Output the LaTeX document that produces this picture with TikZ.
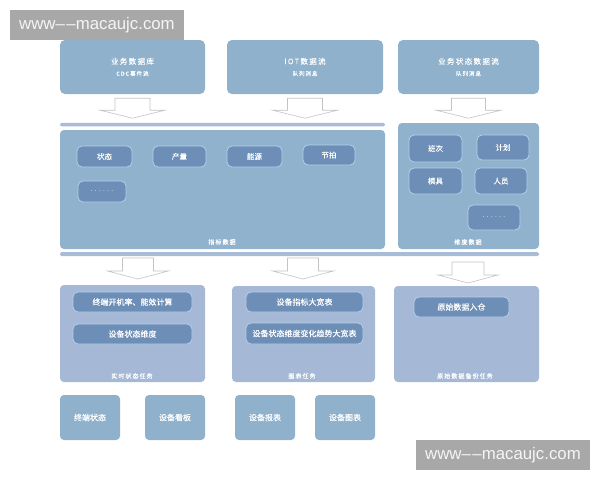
\documentclass[tikz,border=0pt]{standalone}
\usepackage{fontspec}
\setmainfont{Liberation Sans}
\newfontfamily\cjk{Noto Sans CJK SC}[FakeBold=0.2]
\newfontfamily\cjksp{Noto Sans CJK SC}[LetterSpace=18,FakeBold=0.15]
\newfontfamily\dotfont{Liberation Sans}[LetterSpace=35]
\definecolor{boxblue}{HTML}{8FB1CC}
\definecolor{midblue}{HTML}{91B2CD}
\definecolor{chipfill}{HTML}{6D8FB7}
\definecolor{chipline}{HTML}{B4D0EA}
\definecolor{taskblue}{HTML}{A5B8D5}
\definecolor{barblue}{HTML}{A8BCD8}
\definecolor{wmgray}{HTML}{A8A8A8}
\definecolor{arrgray}{HTML}{C4C4C4}
\newcommand\blkarrow[5]{%
  \draw[arr, shift={(#1)}] (-#2,0) -- (-#2,#4) -- (-#3,#4) -- (0,#5) -- (#3,#4) -- (#2,#4) -- (#2,0) -- cycle;}
\newcommand\srctext[2]{{\cjksp\fontsize{7.5}{9}\selectfont #1}\\[-0.5pt]{\cjksp\fontsize{5.5}{6.5}\selectfont #2}}
\newcommand\dotsx{{\dotfont\fontsize{6.5}{7}\selectfont ......}}
\begin{document}
\begin{tikzpicture}[x=1pt,y=-1pt,
  box/.style={rectangle, rounded corners=5pt, fill=boxblue, draw=none, text=white, align=center, inner sep=0pt},
  srcbox/.style={box, minimum height=54pt},
  panel/.style={box, fill=midblue, rounded corners=4pt},
  task/.style={box, fill=taskblue, rounded corners=4pt},
  chip/.style={box, fill=chipfill, draw=chipline, line width=0.8pt, rounded corners=5pt, font=\cjk\fontsize{7.5}{8}\selectfont},
  tchip/.style={chip, font=\cjk\fontsize{8}{9}\selectfont},
  outbox/.style={box, minimum width=60pt, minimum height=45pt, rounded corners=4pt, font=\cjk\fontsize{8}{9}\selectfont},
  bar/.style={rectangle, rounded corners=1.5pt, fill=barblue, draw=none, inner sep=0pt},
  lbl/.style={text=white, font=\cjksp\fontsize{6}{7}\selectfont, inner sep=0pt},
  arr/.style={draw=arrgray, fill=white, line width=0.6pt, line join=miter},
  wm/.style={rectangle, fill=wmgray, text=white!96!black, inner sep=0pt, minimum width=174pt, minimum height=30pt, font=\fontsize{16.8}{20}\selectfont}
]
\useasboundingbox (0,0) rectangle (600,480);
\fill[white] (0,0) rectangle (600,480);

% source boxes
\node[srcbox, minimum width=145pt] (s1) at (132.5,67) {\srctext{业务数据库}{CDC事件流}};
\node[srcbox, minimum width=156pt] (s2) at (305,67) {\srctext{IOT数据流}{队列消息}};
\node[srcbox, minimum width=141pt] (s3) at (468.5,67) {\srctext{业务状态数据流}{队列消息}};

% bars
\node[bar, minimum width=325pt, minimum height=3.5pt] (bar1) at (222.5,124.5) {};
\node[bar, minimum width=479pt, minimum height=4pt] (bar2) at (299.5,254) {};

% panels
\node[panel, minimum width=325pt, minimum height=119pt] (p1) at (222.5,189.5) {};
\node[panel, minimum width=141pt, minimum height=126pt] (p2) at (468.5,186) {};
\node[lbl] (p1l) at (222,242) {指标数据};
\node[lbl] (p2l) at (468,242) {维度数据};

% arrows row 1
\coordinate (a1) at ([yshift=-4pt]s1.south);
\coordinate (a2) at ([yshift=-4pt]s2.south);
\coordinate (a3) at ([yshift=-4pt]s3.south);
\blkarrow{a1}{17.5}{32.5}{12}{20}
\blkarrow{a2}{17.5}{32.5}{12}{20}
\blkarrow{a3}{17}{32.5}{12}{20}

% chips left
\node[chip, minimum width=55pt, minimum height=21pt] (c1) at (104.5,156.5) {状态};
\node[chip, minimum width=53pt, minimum height=21pt] (c2) at (179.5,156.5) {产量};
\node[chip, minimum width=55pt, minimum height=21pt] (c3) at (254.5,156.5) {能源};
\node[chip, minimum width=52pt, minimum height=20pt] (c4) at (329,155) {节拍};
\node[chip, minimum width=48pt, minimum height=21pt] (c5) at (102,191.5) {\dotsx};
% chips right
\node[chip, minimum width=53pt, minimum height=27pt] (d1) at (435.5,148.5) {班次};
\node[chip, minimum width=52pt, minimum height=25pt] (d2) at (503,147.5) {计划};
\node[chip, minimum width=53pt, minimum height=26pt] (d3) at (435.5,181) {模具};
\node[chip, minimum width=52pt, minimum height=26pt] (d4) at (501,181) {人员};
\node[chip, minimum width=52pt, minimum height=25pt] (d5) at (494,217.5) {\dotsx};

% arrows row 2
\coordinate (b1) at (138,258);
\coordinate (b2) at (303,258);
\coordinate (b3) at (468,262);
\blkarrow{b1}{15.5}{30.5}{13}{21}
\blkarrow{b2}{15.5}{30.5}{13}{21}
\blkarrow{b3}{16}{30}{13}{21}

% task boxes
\node[task, minimum width=145pt, minimum height=97pt] (t1) at (132.5,333.5) {};
\node[task, minimum width=143pt, minimum height=96pt] (t2) at (303.5,334) {};
\node[task, minimum width=145pt, minimum height=96pt] (t3) at (466.5,334) {};
\node[lbl] (t1l) at (132,376) {实时状态任务};
\node[lbl] (t2l) at (302,376) {图表任务};
\node[lbl] (t3l) at (465,376) {原始数据备份任务};

\node[tchip, minimum width=119pt, minimum height=20pt] (e1) at (132.5,302) {终端开机率、能效计算};
\node[tchip, minimum width=119pt, minimum height=20pt] (e2) at (132.5,334) {设备状态维度};
\node[tchip, minimum width=117pt, minimum height=20pt] (e3) at (304.5,302) {设备指标大宽表};
\node[tchip, minimum width=117pt, minimum height=21pt] (e4) at (304.5,333.5) {设备状态维度变化趋势大宽表};
\node[tchip, minimum width=95pt, minimum height=20pt] (e5) at (461.5,307) {原始数据入仓};

% output boxes
\node[outbox] (o1) at (90,417.5) {终端状态};
\node[outbox] (o2) at (175,417.5) {设备看板};
\node[outbox] (o3) at (265,417.5) {设备报表};
\node[outbox] (o4) at (345,417.5) {设备图表};

% watermarks
\node[wm] (w1) at (97,25) {www–\kern1.5pt–macaujc.com};
\node[wm] (w2) at (503,455) {www–\kern1.5pt–macaujc.com};
\end{tikzpicture}
\end{document}
